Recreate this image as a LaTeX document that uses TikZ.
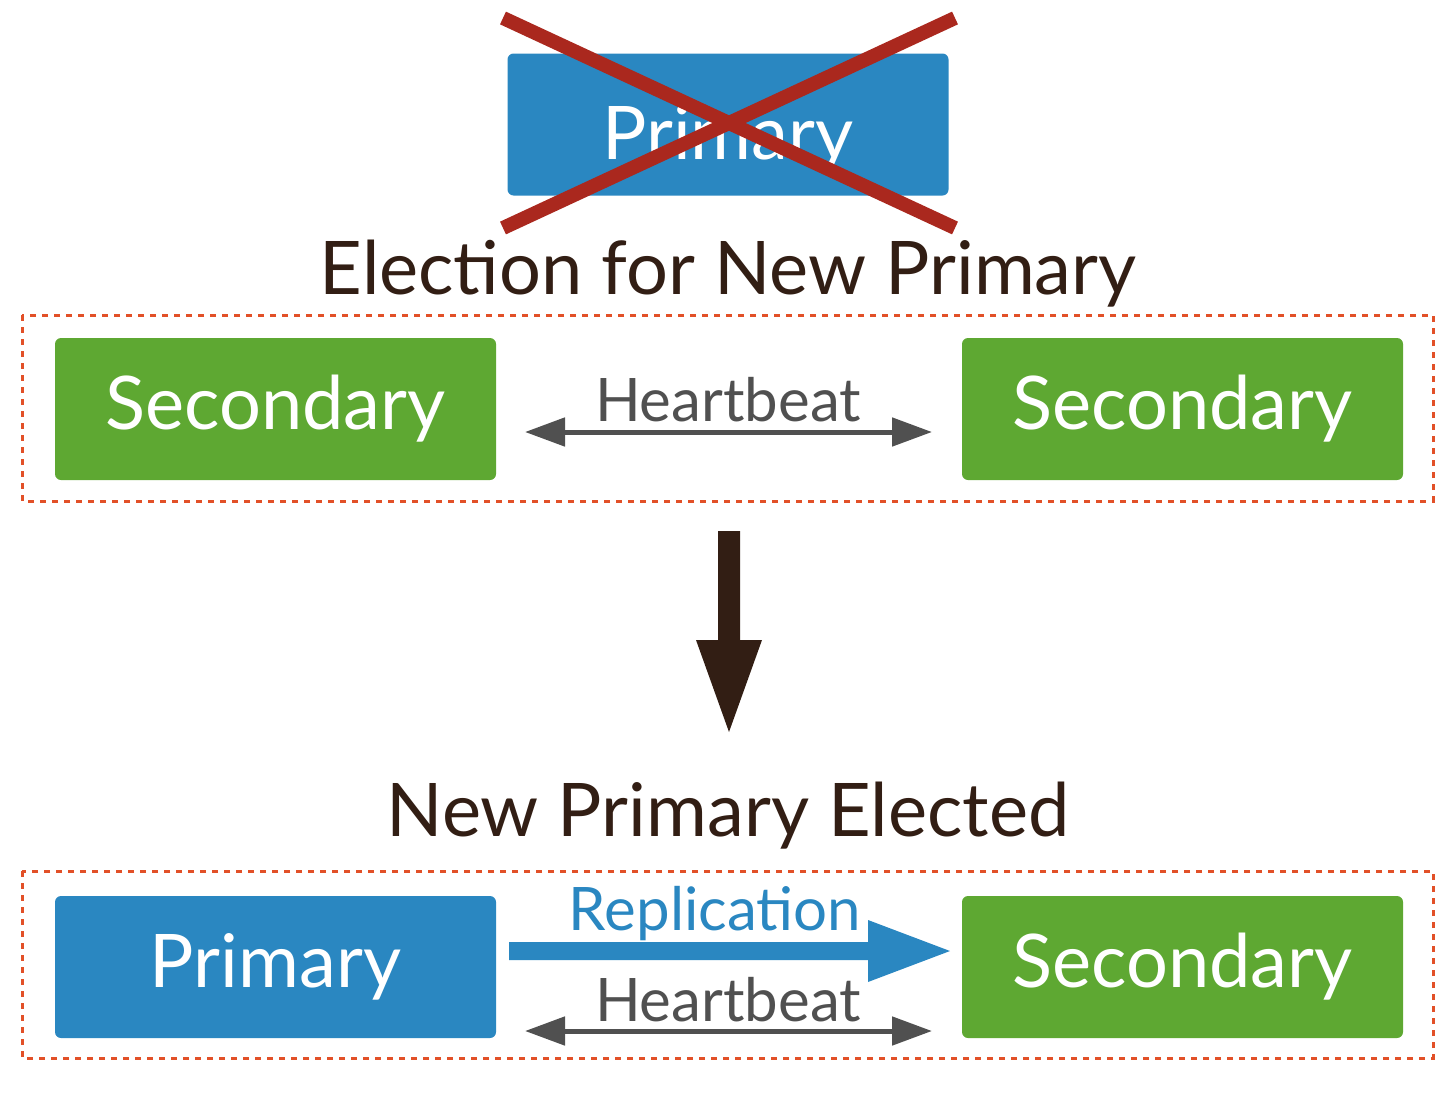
\documentclass[tikz,border=0pt]{standalone}
\usepackage{fontspec}
\setmainfont{Lato}
\usetikzlibrary{arrows.meta}
\definecolor{pblue}{RGB}{42,135,193}
\definecolor{sgreen}{RGB}{94,168,50}
\definecolor{xred}{RGB}{170,40,30}
\definecolor{dred}{RGB}{226,80,40}
\definecolor{hgray}{RGB}{80,80,80}
\definecolor{dbrown}{RGB}{50,30,20}
\tikzset{every picture/.style={line width=0.75pt},
  nodebox/.style={rounded corners=3pt,inner sep=0pt,minimum width=220.5pt,minimum height=71pt,text=white,font=\fontsize{37}{37}\selectfont},
  groupbox/.style={draw=dred,line width=1.5pt,dash pattern={on 3pt off 3pt}},
  beat/.style={draw=hgray,line width=2.5pt,{Triangle[width=14pt,length=20pt]}-{Triangle[width=14pt,length=20pt]}},
  beatlabel/.style={text=hgray,font=\fontsize{30}{30}\selectfont}}

\begin{document}
\begin{tikzpicture}[x=0.5pt,y=0.5pt,yscale=-1,xscale=1]
\useasboundingbox (0,0) rectangle (1456,1103);

% failed primary
\node [nodebox,fill=pblue,text depth=0pt] (oldprim) at (728,124.5) {\raisebox{-8pt}{Primary}};
\draw [xred,line width=7pt] (503,18) -- (955,228) (955,18) -- (503,228);

% election
\node [font=\fontsize{37}{37}\selectfont,text=dbrown] (elect) at (728,274) {Election for New Primary};
\draw [groupbox] (22,315) rectangle (1433,501);
\node [nodebox,fill=sgreen] (secA) at (275.5,409) {\raisebox{-6pt}{Secondary}};
\node [nodebox,fill=sgreen] (secB) at (1182.5,409) {\raisebox{-6pt}{Secondary}};
\coordinate (hbA) at (525,432);
\coordinate (hbB) at (932,432);
\draw [beat] (hbA) -- (hbB);
\node [beatlabel] (beatA) at (728,400) {Heartbeat};

% step arrow
\fill [dbrown] (718,531) -- (740,531) -- (740,640) -- (762,640) -- (729,732) -- (696,640) -- (718,640) -- cycle;

% elected
\node [font=\fontsize{37}{37}\selectfont,text=dbrown] (done) at (728,816) {New Primary Elected};
\draw [groupbox] (22,871) rectangle (1433,1058);
\node [nodebox,fill=pblue] (newprim) at (275.5,967) {\raisebox{-6pt}{Primary}};
\node [nodebox,fill=sgreen] (secC) at (1182.5,967) {\raisebox{-6pt}{Secondary}};
\fill [pblue] (509,942) -- (868,942) -- (868,920) -- (950,951) -- (868,982) -- (868,960) -- (509,960) -- cycle;
\node [text=pblue,font=\fontsize{30}{30}\selectfont] (repl) at (715,914) {Replication};
\coordinate (hbC) at (525,1031);
\coordinate (hbD) at (932,1031);
\draw [beat] (hbC) -- (hbD);
\node [beatlabel] (beatB) at (728,1000) {Heartbeat};

\end{tikzpicture}
\end{document}
